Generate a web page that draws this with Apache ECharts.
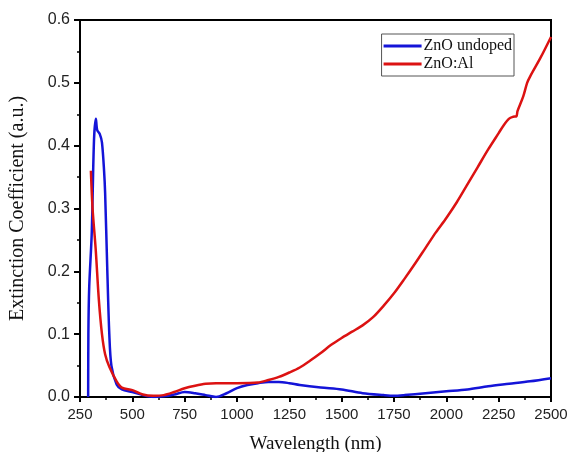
<!DOCTYPE html>
<html>
<head>
<meta charset="utf-8">
<script src="https://cdn.jsdelivr.net/npm/echarts@6/dist/echarts.min.js"></script>
<style>
  html, body { margin: 0; padding: 0; background: #fff; }
  #app { width: 570px; height: 452px; }
</style>
</head>
<body>
<div id="app"></div>
<script>
// wavelength (nm) / extinction coefficient pairs
const undopedWl = [289, 290, 294, 306, 317, 326, 332, 345, 355, 365, 370, 380, 390, 400, 425, 450, 500, 550, 600, 650, 700, 750, 800, 850, 900, 950, 1000, 1050, 1100, 1150, 1200, 1250, 1300, 1400, 1500, 1600, 1700, 1750, 1800, 1900, 2000, 2100, 2200, 2300, 2400, 2500];
const undopedK = [0.0, 0.1, 0.175, 0.26, 0.41, 0.443, 0.425, 0.418, 0.405, 0.36, 0.325, 0.207, 0.1, 0.05, 0.02, 0.012, 0.008, 0.003, 0.0, 0.001, 0.004, 0.008, 0.006, 0.003, 0.0, 0.006, 0.014, 0.019, 0.022, 0.024, 0.024, 0.022, 0.019, 0.015, 0.012, 0.006, 0.003, 0.002, 0.003, 0.006, 0.009, 0.012, 0.017, 0.021, 0.025, 0.03];

const alWl = [302, 310, 325, 340, 355, 370, 390, 425, 450, 500, 550, 600, 650, 700, 750, 800, 850, 900, 1000, 1100, 1150, 1200, 1250, 1300, 1350, 1400, 1450, 1500, 1550, 1600, 1650, 1700, 1750, 1800, 1850, 1900, 1950, 2000, 2050, 2100, 2150, 2200, 2250, 2275, 2300, 2320, 2335, 2340, 2367, 2386, 2400, 2450, 2500];
const alK = [0.36, 0.3, 0.235, 0.155, 0.1, 0.068, 0.048, 0.025, 0.015, 0.011, 0.004, 0.002, 0.003, 0.008, 0.014, 0.018, 0.021, 0.022, 0.022, 0.023, 0.027, 0.032, 0.039, 0.047, 0.058, 0.07, 0.083, 0.094, 0.104, 0.114, 0.127, 0.145, 0.165, 0.188, 0.212, 0.237, 0.262, 0.285, 0.31, 0.338, 0.366, 0.394, 0.42, 0.433, 0.443, 0.446, 0.447, 0.455, 0.478, 0.5, 0.51, 0.54, 0.573];

function pairs(xs, ys) {
  return xs.map((x, i) => [x, ys[i]]);
}

const chart = echarts.init(document.getElementById("app"));

const sans = "Liberation Sans, Arial, sans-serif";
const serif = "Liberation Serif, Times New Roman, serif";

chart.setOption({
  backgroundColor: "#fff",
  animation: false,
  grid: {
    left: 80,
    right: 19,
    top: 20,
    bottom: 55,
    outerBoundsMode: "none",
    containLabel: false,
    show: true,
    borderColor: "#000",
    borderWidth: 2,
    backgroundColor: "transparent"
  },
  legend: {
    right: 56,
    top: 34,
    orient: "vertical",
    itemWidth: 38,
    itemHeight: 3,
    itemGap: 2,
    icon: "rect",
    borderColor: "#555",
    borderWidth: 1,
    padding: [4, 2, 4, 2],
    textStyle: { fontFamily: serif, fontSize: 16, lineHeight: 16, color: "#111", padding: [0, 0, 0, -3] },
    data: ["ZnO undoped", "ZnO:Al"]
  },
  xAxis: {
    type: "value",
    min: 250,
    max: 2500,
    interval: 250,
    name: "Wavelength (nm)",
    nameLocation: "middle",
    nameGap: 38,
    nameTextStyle: { fontFamily: serif, fontSize: 19, color: "#111" },
    axisLine: { lineStyle: { color: "#000", width: 2 } },
    axisTick: { show: true, length: 5, lineStyle: { color: "#000", width: 2 } },
    minorTick: { show: true, splitNumber: 2, length: 3, lineStyle: { color: "#000", width: 1.5 } },
    axisLabel: { margin: 10, fontFamily: sans, fontSize: 15, color: "#222", formatter: v => String(v) },
    splitLine: { show: false }
  },
  yAxis: {
    type: "value",
    min: 0,
    max: 0.6,
    interval: 0.1,
    name: "Extinction Coefficient (a.u.)",
    nameLocation: "middle",
    nameGap: 52,
    nameTextStyle: { fontFamily: serif, fontSize: 20, color: "#111" },
    axisLine: { show: true, lineStyle: { color: "#000", width: 2 } },
    axisTick: { show: true, length: 6, lineStyle: { color: "#000", width: 2 } },
    minorTick: { show: true, splitNumber: 2, length: 3, lineStyle: { color: "#000", width: 1.5 } },
    axisLabel: { margin: 10, fontFamily: sans, fontSize: 16, color: "#222", formatter: v => v.toFixed(1) },
    splitLine: { show: false }
  },
  series: [
    {
      name: "ZnO undoped",
      type: "line",
      data: pairs(undopedWl, undopedK),
      showSymbol: false,
      smooth: 0.3,
      lineStyle: { color: "#1414d8", width: 2.5 },
      itemStyle: { color: "#1414d8" },
      z: 2
    },
    {
      name: "ZnO:Al",
      type: "line",
      data: pairs(alWl, alK),
      showSymbol: false,
      smooth: 0.3,
      lineStyle: { color: "#dc1212", width: 2.5 },
      itemStyle: { color: "#dc1212" },
      z: 3
    }
  ]
});
</script>
</body>
</html>
